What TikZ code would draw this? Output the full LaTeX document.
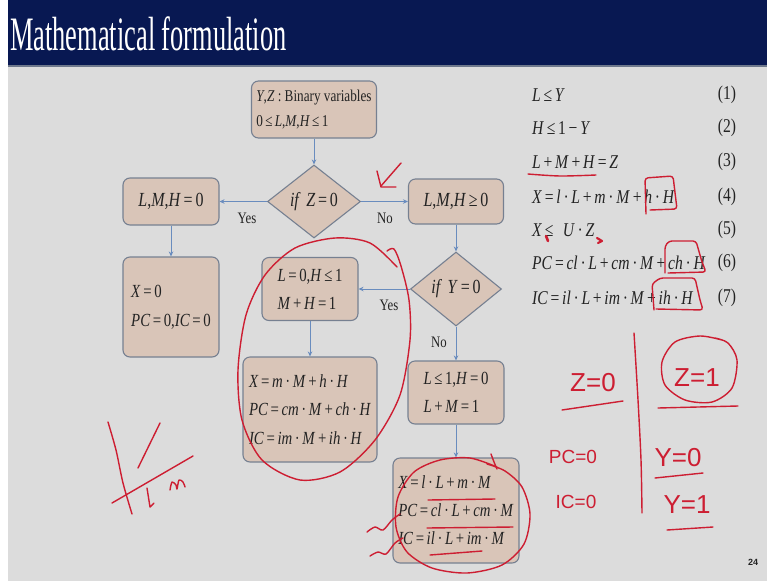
\documentclass[tikz,border=0pt]{standalone}
\usepackage{fontspec}
\setmainfont[FakeStretch=0.8]{Liberation Serif}
\newfontfamily\titlefont[FakeStretch=0.55]{Liberation Serif}
\newfontfamily\handfont{Liberation Sans}
\usetikzlibrary{shapes.geometric,arrows.meta}
\definecolor{navy}{RGB}{8,24,82}
\definecolor{bg}{RGB}{220,220,220}
\definecolor{barline}{RGB}{110,120,140}
\definecolor{boxfill}{RGB}{217,197,184}
\definecolor{boxline}{RGB}{118,128,145}
\definecolor{arrowc}{RGB}{105,140,190}
\definecolor{txt}{RGB}{35,35,35}
\definecolor{inkred}{RGB}{205,30,50}
\newcommand\I[1]{\textit{#1}}
\newcommand\gp{\hspace{0.14em}}
\begin{document}
\begin{tikzpicture}[x=1pt,y=-1pt,
  box/.style={draw=boxline, fill=boxfill, line width=1.1pt, rounded corners=7pt, inner sep=0pt, align=left, text=txt},
  dia/.style={diamond, draw=boxline, fill=boxfill, line width=1.1pt, inner sep=0pt, text=txt, font=\fontsize{20}{20}\selectfont},
  conn/.style={draw=arrowc, line width=0.8pt, -{Stealth[length=5pt,width=4.5pt]}},
  lab/.style={text=txt, inner sep=0pt, font=\fontsize{16}{16}\selectfont},
  eq/.style={text=txt, inner sep=0pt, font=\fontsize{19.5}{19.5}\selectfont},
  ink/.style={draw=inkred, line width=1.4pt, line cap=round, line join=round},
  hw/.style={text=inkred, inner sep=0pt, font=\handfont\fontsize{26}{26}\selectfont},
  hws/.style={text=inkred, inner sep=0pt, font=\handfont\fontsize{19}{19}\selectfont}]
\useasboundingbox (0,0) rectangle (767,581);
\fill[bg] (0,0) rectangle (767,581);
\fill[white] (0,0) rectangle (8,581);
\fill[navy] (8,0) rectangle (767,65);
\fill[barline] (8,65) rectangle (767,67);
\node[anchor=base west, text=white, inner sep=0pt, font=\titlefont\fontsize{48}{48}\selectfont] (title) at (10,50) {Mathematical formulation};

% flowchart
\node[box, minimum width=125pt, minimum height=57pt, font=\fontsize{16.5}{25}\selectfont] (b1) at (314,109.5)
  {\I{Y},\I{Z} : Binary variables\\ 0\gp≤\gp\I{L},\I{M},\I{H}\gp≤\gp1};
\node[dia, minimum width=93pt, minimum height=73pt] (d1) at (314,201.5) {\I{if}\;\I{Z}\gp=\gp0};
\node[box, minimum width=96pt, minimum height=47pt, font=\fontsize{20}{20}\selectfont] (n1) at (171,201.5)
  {\I{L},\I{M},\I{H}\gp=\gp0};
\node[box, minimum width=96pt, minimum height=100pt, font=\fontsize{18.5}{29}\selectfont] (n2) at (171,307)
  {\I{X}\gp=\gp0\\ \I{PC}\gp=\gp0,\I{IC}\gp=\gp0};
\node[box, minimum width=95pt, minimum height=45pt, font=\fontsize{20}{20}\selectfont] (n3) at (456,201.5)
  {\I{L},\I{M},\I{H}\gp≥\gp0};
\node[dia, minimum width=91pt, minimum height=74pt] (d2) at (456,289) {\I{if}\;\I{Y}\gp=\gp0};
\node[box, minimum width=96pt, minimum height=63pt, font=\fontsize{18.5}{28}\selectfont] (n4) at (310,289)
  {\I{L}\gp=\gp0,\I{H}\gp≤\gp1\\ \I{M}\gp+\gp\I{H}\gp=\gp1};
\node[box, minimum width=134pt, minimum height=105pt, font=\fontsize{18.5}{28.5}\selectfont] (n5) at (310,409.5)
  {\I{X}\gp=\gp\I{m}\gp·\gp\I{M}\gp+\gp\I{h}\gp·\gp\I{H}\\
   \I{PC}\gp=\gp\I{cm}\gp·\gp\I{M}\gp+\gp\I{ch}\gp·\gp\I{H}\\
   \I{IC}\gp=\gp\I{im}\gp·\gp\I{M}\gp+\gp\I{ih}\gp·\gp\I{H}};
\node[box, minimum width=96pt, minimum height=63pt, font=\fontsize{18.5}{28}\selectfont] (n6) at (456,392.5)
  {\I{L}\gp≤\gp1,\I{H}\gp=\gp0\\ \I{L}\gp+\gp\I{M}\gp=\gp1};
\node[box, minimum width=126pt, minimum height=105pt, font=\fontsize{18.5}{28}\selectfont] (n7) at (456,510.5)
  {\I{X}\gp=\gp\I{l}\gp·\gp\I{L}\gp+\gp\I{m}\gp·\gp\I{M}\\
   \I{PC}\gp=\gp\I{cl}\gp·\gp\I{L}\gp+\gp\I{cm}\gp·\gp\I{M}\\
   \I{IC}\gp=\gp\I{il}\gp·\gp\I{L}\gp+\gp\I{im}\gp·\gp\I{M}};

\draw[conn] (b1.south) -- (d1.north);
\draw[conn] (d1.west) -- (n1.east);
\draw[conn] (d1.east) -- (n3.west);
\draw[conn] (n1.south) -- (n2.north);
\draw[conn] (n3.south) -- (d2.north);
\draw[conn] (d2.west) -- (n4.east);
\draw[conn] (d2.south) -- (n6.north);
\draw[conn] (n4.south) -- (n5.north);
\draw[conn] (n6.south) -- (n7.north);
\node[lab] (y1) at (247,218) {Yes};
\node[lab] (no1) at (385,218) {No};
\node[lab] (y2) at (389,305) {Yes};
\node[lab] (no2) at (439,342) {No};

% equations
\node[eq, anchor=west] (e1) at (532,95) {\I{L}\gp≤\gp\I{Y}};
\node[eq, anchor=west] (e2) at (532,128) {\I{H}\gp≤\gp1\gp−\gp\I{Y}};
\node[eq, anchor=west] (e3) at (532,162) {\I{L}\gp+\gp\I{M}\gp+\gp\I{H}\gp=\gp\I{Z}};
\node[eq, anchor=west] (e4) at (532,197) {\I{X}\gp=\gp\I{l}\gp·\gp\I{L}\gp+\gp\I{m}\gp·\gp\I{M}\gp+\gp\I{h}\gp·\gp\I{H}};
\node[eq, anchor=west] (e5) at (532,230) {\I{X}\gp≤\; \I{U}\gp·\gp\I{Z}};
\node[eq, anchor=west] (e6) at (532,263) {\I{PC}\gp=\gp\I{cl}\gp·\gp\I{L}\gp+\gp\I{cm}\gp·\gp\I{M}\gp+\gp\I{ch}\gp·\gp\I{H}};
\node[eq, anchor=west] (e7) at (532,298) {\I{IC}\gp=\gp\I{il}\gp·\gp\I{L}\gp+\gp\I{im}\gp·\gp\I{M}\gp+\gp\I{ih}\gp·\gp\I{H}};
\node[eq] (k1) at (727,95) {(1)};
\node[eq] (k2) at (727,128) {(2)};
\node[eq] (k3) at (727,162) {(3)};
\node[eq] (k4) at (727,197) {(4)};
\node[eq] (k5) at (727,230) {(5)};
\node[eq] (k6) at (727,263) {(6)};
\node[eq] (k7) at (727,298) {(7)};
\node[text=txt, inner sep=0pt, font=\handfont\bfseries\fontsize{9}{9}\selectfont] (pg) at (753,562) {24};

% handwritten annotations
\draw[ink] (401,163) -- (381,186);
\draw[ink] (377,171) -- (381,187) -- (396,187);
\draw[ink] plot[smooth] coordinates {(387,251) (394,249) (401,266) (409,300) (410,340) (400,395) (375,440) (340,472) (300,480) (262,460) (242,420) (238,370) (246,315) (265,275) (295,248) (335,238) (370,243) (397,267)};
\draw[ink] plot[smooth] coordinates {(491,454) (494,462) (497,469)};
\draw[ink] plot[smooth] coordinates {(497,467) (470,458) (440,460) (414,472) (398,497) (396,527) (407,552) (432,568) (467,573) (502,565) (524,544) (530,514) (522,487) (505,471) (487,464)};
\draw[ink] (428,500) -- (495,499);
\draw[ink] (427,528) -- (513,527);
\draw[ink] (430,555) -- (482,551);
\draw[ink] plot[smooth] coordinates {(367,532) (375,527) (383,530) (392,520) (400,514)};
\draw[ink] plot[smooth] coordinates {(370,556) (378,552) (386,554) (395,543) (403,538)};
\draw[ink] plot[smooth] coordinates {(528,174) (560,176) (596,175)};
\draw[ink, rounded corners=3pt] (646,214) -- (645,178) -- (673,176) -- (677,209) -- (650,210);
\draw[ink, rounded corners=3pt] (665,273) -- (665,246) -- (669,241) -- (696,241) -- (702,262) -- (706,272) -- (668,273);
\draw[ink, rounded corners=3pt] (654,310) -- (652,284) -- (660,278) -- (695,278) -- (700,300) -- (703,310) -- (656,309);
\draw[ink, line width=2.6pt] (546,236) -- (548,241);
\draw[ink, line width=2.2pt] (597,238) -- (602,241) -- (598,243);
% right handwriting
\node[hw] (hz0) at (593,383) {Z=0};
\draw[ink] (562,410) -- (623,401);
\draw[ink] plot[smooth] coordinates {(634,333) (638,400) (641,460) (642,513)};
\node[hw] (hz1) at (697,378) {Z=1};
\draw[ink] plot[smooth] coordinates {(722,340) (700,336) (675,342) (662,362) (665,385) (685,400) (712,402) (732,388) (737,360) (728,343) (715,338)};
\draw[ink] (658,408) -- (738,406);
\node[hw] (hy0) at (678,458) {Y=0};
\draw[ink] (655,478) -- (703,473);
\node[hw] (hy1) at (687,505) {Y=1};
\draw[ink] (667,530) -- (713,527);
\node[hws] (hpc) at (573,457) {PC=0};
\node[hws] (hic) at (576,502) {IC=0};
% bottom-left scribble
\draw[ink] plot[smooth] coordinates {(108,422) (116,450) (123,483) (132,514)};
\draw[ink] (138,468) -- (160,423);
\draw[ink] (112,503) -- (193,456);
\draw[ink] (147,488) -- (150,507) -- (154,503);
\draw[ink] plot[smooth] coordinates {(170,490) (172,482) (176,485) (177,489) (179,480) (183,482) (185,487)};
\end{tikzpicture}
\end{document}
